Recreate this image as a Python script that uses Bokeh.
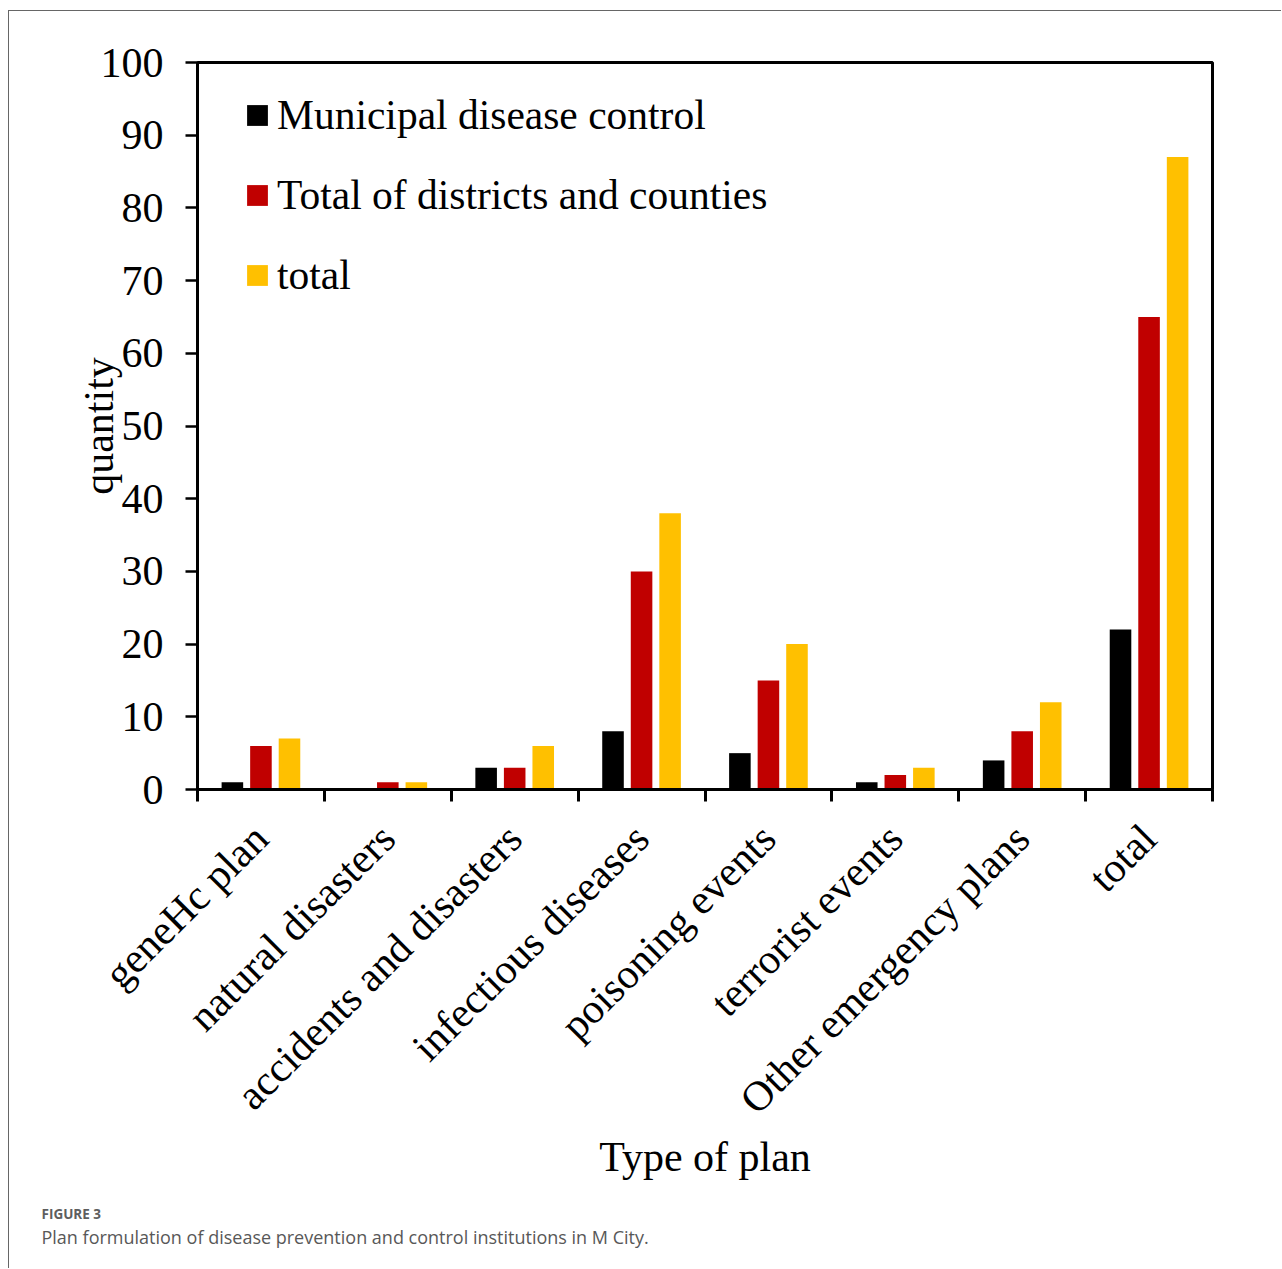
import math
from bokeh.plotting import figure
from bokeh.models import (ColumnDataSource, Range1d, FixedTicker, Legend, LegendItem, Title)
from bokeh.transform import dodge
from bokeh.embed import file_html
from bokeh.resources import INLINE

# Plan counts by type of plan
categories = ["geneHc plan", "natural disasters", "accidents and disasters",
              "infectious diseases", "poisoning events", "terrorist events",
              "Other emergency plans", "total"]
municipal = [1, 0, 3, 8, 5, 1, 4, 22]
districts = [6, 1, 3, 30, 15, 2, 8, 65]
totals = [7, 1, 6, 38, 20, 3, 12, 87]
y_ticks = list(range(0, 101, 10))

series_names = ["Municipal disease control", "Total of districts and counties", "total"]
series_colors = ["#000000", "#C00000", "#FFC000"]

SERIF = "Liberation Serif"
FS = "42px"

n = len(categories)
centers = [i + 0.5 for i in range(n)]
src = ColumnDataSource(dict(x=centers, m=municipal, d=districts, t=totals))

p = figure(width=1273, height=1258, output_backend="svg", toolbar_location=None,
           x_range=Range1d(0, n), y_range=Range1d(0, 100),
           min_border_left=188, min_border_right=70, min_border_top=51, min_border_bottom=480)
# thin grey panel rule on the left and top edges
p.styles = {"margin-left": "8px", "margin-top": "10px",
            "border-left": "1px solid #666666", "border-top": "1px solid #666666"}
p.background_fill_color = "white"
p.border_fill_color = "white"
p.grid.visible = False
p.outline_line_color = "black"
p.outline_line_width = 3

bar_w = 0.17
offsets = [-0.225, 0.0, 0.225]
renderers = []
for col, off, color in zip(["m", "d", "t"], offsets, series_colors):
    r = p.vbar(x=dodge("x", off), top=col, width=bar_w, bottom=0, source=src,
               fill_color=color, line_color=None)
    renderers.append(r)

# y axis
ya = p.yaxis[0]
ya.ticker = FixedTicker(ticks=y_ticks)
ya.axis_line_width = 3
ya.major_tick_out = 12
ya.major_tick_in = 0
ya.major_tick_line_width = 2.5
ya.minor_tick_out = 0
ya.minor_tick_in = 0
ya.major_label_standoff = 22
ya.major_label_text_font = SERIF
ya.major_label_text_font_size = FS
ya.major_label_text_color = "black"
ya.axis_label = "quantity"
ya.axis_label_text_font = SERIF
ya.axis_label_text_font_size = FS
ya.axis_label_text_font_style = "normal"
ya.axis_label_text_color = "black"
ya.axis_label_standoff = -24

# x axis: labels at category centres, ticks at category boundaries
xa = p.xaxis[0]
xa.ticker = FixedTicker(ticks=centers, minor_ticks=list(range(n + 1)))
xa.major_label_overrides = {c: name for c, name in zip(centers, categories)}
xa.axis_line_width = 3
xa.major_tick_out = 0
xa.major_tick_in = 0
xa.minor_tick_out = 12
xa.minor_tick_in = 0
xa.minor_tick_line_width = 3
xa.major_label_orientation = math.pi / 4
xa.major_label_standoff = 30
xa.major_label_text_font = SERIF
xa.major_label_text_font_size = FS
xa.major_label_text_color = "black"
xa.axis_label = "Type of plan"
xa.axis_label_text_font = SERIF
xa.axis_label_text_font_size = FS
xa.axis_label_text_font_style = "normal"
xa.axis_label_text_color = "black"
xa.axis_label_standoff = -8

legend = Legend(items=[LegendItem(label=nm, renderers=[r]) for nm, r in zip(series_names, renderers)],
                location=(47, 489), orientation="vertical",
                glyph_width=26, glyph_height=26, label_height=50, label_standoff=7,
                spacing=30, padding=0, margin=0,
                label_text_font=SERIF, label_text_font_size="41.5px", label_text_color="black",
                border_line_color=None, background_fill_alpha=0)
p.add_layout(legend, "center")

# caption under the chart (a blank spacer row first, then the two caption lines)
p.add_layout(Title(text=" ", text_font_size="1px", standoff=17), "below")
p.add_layout(Title(text="FIGURE 3", align="left", offset=-156, standoff=0,
                   text_font="Open Sans", text_font_size="13.5px", text_font_style="bold",
                   text_color="#5e5e5e"), "below")
p.add_layout(Title(text="Plan formulation of disease prevention and control institutions in M City.",
                   align="left", offset=-156, standoff=0,
                   text_font="Open Sans", text_font_size="18px", text_font_style="normal",
                   text_color="#585858"), "below")

open("out.html", "w").write(file_html(p, INLINE))
